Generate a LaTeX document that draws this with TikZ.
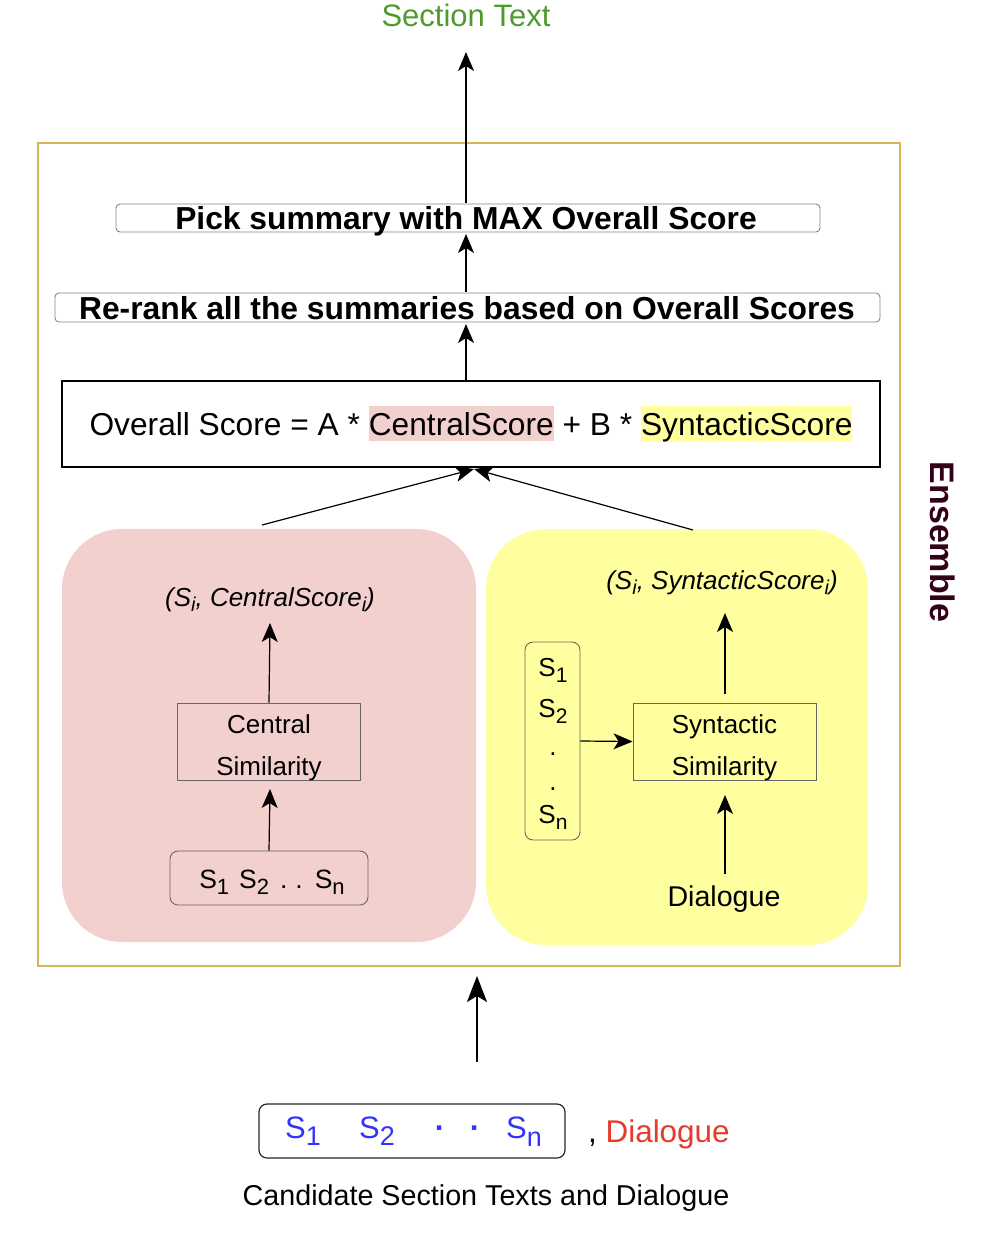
\documentclass[tikz,border=0pt]{standalone}
\usepackage{fontspec}
\setmainfont{Liberation Sans}
\usetikzlibrary{arrows.meta}
\definecolor{gold}{HTML}{D6B656}
\definecolor{pinkfill}{HTML}{F2D0CE}
\definecolor{yelfill}{HTML}{FFFF9F}
\definecolor{secgreen}{RGB}{77,155,45}
\definecolor{sblue}{HTML}{3333FF}
\definecolor{dred}{HTML}{E83A2A}
\definecolor{maroon}{RGB}{51,0,25}
\definecolor{boxgray}{HTML}{666666}
\newcommand\fsz[2]{\fontsize{#1}{#2}\selectfont}
\newcommand\hlbox[2]{{\setlength\fboxsep{0pt}\colorbox{#1}{\rule[-6pt]{0pt}{35pt}#2}}}
% subscript: size, drop, text
\newcommand\sbs[3]{\raisebox{-#2}{\fontsize{#1}{#1}\selectfont #3}}
\begin{document}
\begin{tikzpicture}[x=1pt,y=-1pt,
  arr/.style={-{Stealth[length=19pt,width=16pt,inset=5pt]}, line width=1.2pt},
  bigarr/.style={-{Stealth[length=26pt,width=20pt,inset=6pt]}, line width=2.4pt},
  txt/.style={anchor=base, inner sep=0pt},
  bartitle/.style={draw=boxgray!80, line width=0.9pt, rounded corners=4pt, inner sep=0pt},
  simbox/.style={draw=boxgray, line width=0.9pt, inner sep=0pt, minimum width=183pt, minimum height=77pt},
  panel/.style={rounded corners=60pt, inner sep=0pt},
  sbox/.style={draw=boxgray, line width=0.9pt, rounded corners=8pt, inner sep=0pt}]
\useasboundingbox (0,0) rectangle (980,1234);

% outer ensemble frame
\node[draw=gold, line width=2.4pt, inner sep=0pt, minimum width=862pt, minimum height=823pt] (frame) at (469,554.5) {};
\node[txt, rotate=-90, text=maroon, font=\fsz{34}{40}\bfseries] (ens) at (930,542) {Ensemble};

% top
\node[txt, text=secgreen, font=\fsz{31}{36}] (sec) at (466,26) {Section Text};
\node[bartitle, minimum width=704pt, minimum height=28pt] (pick) at (468,218) {};
\node[txt, font=\fsz{31.8}{36}\bfseries] (pickt) at (466,229) {Pick summary with MAX Overall Score};
\node[bartitle, minimum width=825pt, minimum height=29pt] (rerank) at (467.5,307.5) {};
\node[txt, font=\fsz{31.8}{36}\bfseries] (rerankt) at (467,319) {Re-rank all the summaries based on Overall Scores};
\node[draw=black, line width=1.2pt, inner sep=0pt, minimum width=818pt, minimum height=86pt] (ov) at (471,424) {};
\node[txt, font=\fsz{31.7}{36}] (ovt) at (471,435) {Overall Score = A * \hlbox{pinkfill}{CentralScore} + B * \hlbox{yelfill}{SyntacticScore}};

\coordinate (secend) at (466,52);
\coordinate (picktop) at (466,203);
\coordinate (pickbot) at (466,234);
\coordinate (rrtop) at (466,292);
\coordinate (rrbot) at (466,324);
\coordinate (ovtop) at (466,380);
\draw[arr] (picktop) -- (secend);
\draw[arr] (rrtop) -- (pickbot);
\draw[arr] (ovtop) -- (rrbot);

% panels
\node[panel, fill=pinkfill, minimum width=414pt, minimum height=413pt] (pinkp) at (269,735.5) {};
\node[panel, fill=yelfill, minimum width=382pt, minimum height=416pt] (yelp) at (677,737) {};

\coordinate (ovb) at (474,469);
\coordinate (pstart) at (262,525);
\coordinate (ystart) at (693,530);
\draw[arr] (pstart) -- (ovb);
\draw[arr] (ystart) -- (ovb);

% pink panel contents
\node[txt, font=\fsz{26}{30}\itshape] (cscore) at (270,606) {(S\sbs{20}{5pt}{i}, CentralScore\sbs{20}{5pt}{i})};
\node[simbox] (csim) at (269,741.5) {};
\node[txt, font=\fsz{26}{30}] at (269,733) {Central};
\node[txt, font=\fsz{26}{30}] at (269,775) {Similarity};
\node[sbox, minimum width=198pt, minimum height=54pt] (slist) at (269,878) {};
\node[txt, font=\fsz{26.5}{30}] at (272,888) {S\sbs{22}{6pt}{1}\hspace{10pt}S\sbs{22}{6pt}{2}\hspace{11pt}.\hspace{8pt}.\hspace{12pt}S\sbs{22}{6pt}{n}};
\coordinate (cstop) at (270,623);
\coordinate (csbot) at (270,789);
\draw[arr] (csim.north) -- (cstop);
\draw[arr] (slist.north) -- (csbot);

% yellow panel contents
\node[txt, font=\fsz{26}{30}\itshape] (sscore) at (722,589) {(S\sbs{20}{5pt}{i}, SyntacticScore\sbs{20}{5pt}{i})};
\node[simbox] (ssim) at (724.5,741.5) {};
\node[txt, font=\fsz{26}{30}] at (724.5,733) {Syntactic};
\node[txt, font=\fsz{26}{30}] at (724.5,775) {Similarity};
\node[sbox, minimum width=55pt, minimum height=198pt] (scol) at (552.5,741) {};
\node[txt, font=\fsz{26}{30}] at (553,676) {S\sbs{21}{6pt}{1}};
\node[txt, font=\fsz{26}{30}] at (553,717) {S\sbs{21}{6pt}{2}};
\node[txt, font=\fsz{26}{30}] at (553,755) {.};
\node[txt, font=\fsz{26}{30}] at (553,790) {.};
\node[txt, font=\fsz{26}{30}] at (553,823) {S\sbs{21}{6pt}{n}};
\node[txt, font=\fsz{28.6}{32}] (dia) at (724,906) {Dialogue};
\coordinate (sstop) at (725,613);
\coordinate (sstart) at (725,694);
\coordinate (diatop) at (725,874);
\coordinate (ssbot) at (725,795);
\draw[arr] (sstart) -- (sstop);
\draw[arr] (diatop) -- (ssbot);
\draw[arr] (scol.east) -- (ssim.west);

% bottom input
\coordinate (inb) at (477,1062);
\coordinate (int) at (477,976);
\draw[bigarr] (inb) -- (int);
\node[sbox, draw=black!85, line width=1.2pt, minimum width=306pt, minimum height=54pt] (inbox) at (412,1131) {};
\begin{scope}[every node/.style={txt, text=sblue, font=\fsz{31}{36}}]
\node at (303,1138) {S\sbs{27}{7pt}{1}};
\node at (377,1138) {S\sbs{27}{7pt}{2}};
\node at (440,1138) {\bfseries ·};
\node at (475,1138) {\bfseries ·};
\node at (524,1138) {S\sbs{27}{8pt}{n}};
\end{scope}
\node[txt, anchor=base west, font=\fsz{31.4}{36}] (dl) at (588,1142) {, \textcolor{dred}{Dialogue}};
\node[txt, font=\fsz{28.7}{32}] (cand) at (486,1205) {Candidate Section Texts and Dialogue};
\end{tikzpicture}
\end{document}
